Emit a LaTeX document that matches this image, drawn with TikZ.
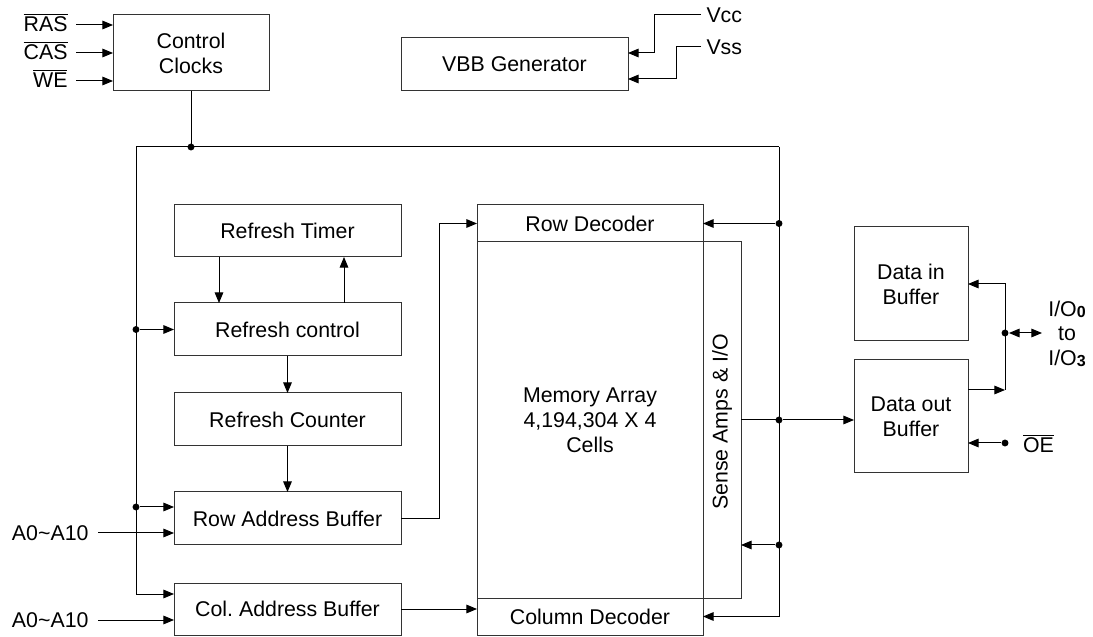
\documentclass[tikz,border=0pt]{standalone}
\usepackage{fontspec}
\setmainfont{Liberation Sans}
\usetikzlibrary{arrows.meta}
\usetikzlibrary{calc}

\newcommand\barsig[1]{$\overline{\hbox{#1}}$}
\newcommand\iosub[1]{\raisebox{-1pt}{\fontsize{12}{12}\selectfont\bfseries #1}}

\begin{document}
\begin{tikzpicture}[x=0.75pt,y=0.75pt,line width=0.75pt,
        font=\fontsize{16}{18.75}\selectfont,
        blk/.style={draw=black!80,inner sep=0pt,outer sep=0pt,align=center},
        arr/.style={-{Triangle[length=8pt,width=6.5pt]}},
        dot/.style={circle,fill,inner sep=0pt,minimum size=5.2pt}]
                \useasboundingbox (0,0) rectangle (1093,636);

                % blocks
                \node[blk,minimum width=117pt,minimum height=57pt] (clk) at (191,583) {Control\\Clocks};
                \node[blk,minimum width=170.25pt,minimum height=39.75pt] (vbb) at (514.5,571.5) {VBB Generator};
                \node[blk,minimum width=170.25pt,minimum height=39pt] (timer) at (287.5,405) {Refresh Timer};
                \node[blk,minimum width=170.25pt,minimum height=39.75pt] (rctl) at (287.5,306.5) {Refresh control};
                \node[blk,minimum width=170.25pt,minimum height=39.75pt] (rcnt) at (287.5,216.5) {Refresh Counter};
                \node[blk,minimum width=170.25pt,minimum height=39.75pt] (rab) at (287.5,117.5) {Row Address Buffer};
                \node[blk,minimum width=170.25pt,minimum height=39pt] (cab) at (287.5,27) {Col.\ Address Buffer};
                \node[blk,minimum width=169.5pt,minimum height=27.75pt] (rdec) at (590,412.5) {Row Decoder};
                \node[blk,minimum width=169.5pt,minimum height=267pt] (mem) at (590,216) {Memory Array\\4,194,304 X 4\\Cells};
                \node[blk,minimum width=28.5pt,minimum height=267pt] (sense) at (722,216) {};
                \node[rotate=90] at (722,214) {Sense Amps \& I/O};
                \node[blk,minimum width=169.5pt,minimum height=27.75pt] (cdec) at (590,19.5) {Column Decoder};
                \node[blk,minimum width=85.5pt,minimum height=85.5pt] (din) at (911,352) {Data in\\Buffer};
                \node[blk,minimum width=85.5pt,minimum height=84.75pt] (dout) at (911,219.5) {Data out\\Buffer};

                % inputs
                \coordinate (ras) at (76,611);
                \coordinate (cas) at (76,583);
                \coordinate (we) at (76,555);
                \node[anchor=east,inner sep=0pt] at (68,613.5) {\barsig{RAS}};
                \node[anchor=east,inner sep=0pt] at (68,585.5) {\barsig{CAS}};
                \node[anchor=east,inner sep=0pt] at (68,557.5) {\barsig{WE}};
                \draw[arr] (ras) -- (ras -| clk.west);
                \draw[arr] (cas) -- (cas -| clk.west);
                \draw[arr] (we) -- (we -| clk.west);

                \coordinate (ain1) at (98,103);
                \coordinate (ain2) at (98,16);
                \node[anchor=east,inner sep=0pt] at (89,103) {A0\textasciitilde A10};
                \node[anchor=east,inner sep=0pt] at (89,16) {A0\textasciitilde A10};
                \draw[arr] (ain1) -- (ain1 -| rab.west);
                \draw[arr] (ain2) -- (ain2 -| cab.west);

                % supply
                \coordinate (vcc) at (701,621);
                \coordinate (vss) at (701,589);
                \node[anchor=west,inner sep=0pt] at (706,621) {Vcc};
                \node[anchor=west,inner sep=0pt] at (706,589) {Vss};
                \draw[arr] (vcc) -| ($(vbb.east)+(26,11.5)$) -- ($(vbb.east)+(0,11.5)$);
                \draw[arr] (vss) -| ($(vbb.east)+(48,-14.5)$) -- ($(vbb.east)+(0,-14.5)$);

                % control bus
                \coordinate (busL) at (136,489);
                \coordinate (busR) at (779,489);
                \node[dot] (jclk) at (191,489) {};
                \node[dot] (jctl) at (136,306.5) {};
                \node[dot] (jrab) at (136,129) {};
                \node[dot] (jrdec) at (779,412.5) {};
                \node[dot] (jsen) at (779,216) {};
                \node[dot] (jsa) at (779,91) {};
                \draw (clk.south) -- (jclk.center);
                \draw (busL) -- (busR);
                \draw[arr] (busL) |- ($(cab.west)+(0,15)$);
                \draw[arr] (busR) |- (cdec.east);
                \draw[arr] (jctl) -- (rctl.west);
                \draw[arr] (jrab) -- (jrab -| rab.west);
                \draw[arr] (jrdec) -- (rdec.east);
                \draw[arr] (jsa) -- (jsa -| sense.east);

                % refresh path
                \draw[arr] ($(timer.south)+(-68.5,0)$) -- ($(rctl.north)+(-68.5,0)$);
                \draw[arr] ($(rctl.north)+(56.5,0)$) -- ($(timer.south)+(56.5,0)$);
                \draw[arr] (rctl) -- (rcnt);
                \draw[arr] (rcnt) -- (rab);
                \draw[arr] (rab.east) -- ++(38,0) |- (rdec.west);
                \draw[arr] (cab.east) -- (cab.east -| cdec.west);

                % data path
                \draw (sense.east |- jsen) -- (jsen.center);
                \draw[arr] (jsen) -- (jsen -| dout.west);
                \coordinate (jo) at (1005,246);
                \coordinate (iop) at (1042,303);
                \node[dot] (jio) at (1005,303) {};
                \node[dot] (joe) at (1005,193) {};
                \draw[arr] ($(dout.east)+(0,26.5)$) -- (jo);
                \draw[arr] (jo) |- (din.east);
                \draw[{Triangle[length=8pt,width=6.5pt]}-{Triangle[length=8pt,width=6.5pt]}] (jio) -- (iop);
                \draw[arr] (joe) -- (joe -| dout.east);
                \node[align=center,font=\fontsize{16}{18.4}\selectfont] at (1067,302) {I/O\iosub{0}\\to\\I/O\iosub{3}};
                \node at (1038.5,192.5) {\barsig{OE}};
            \end{tikzpicture}
\end{document}
